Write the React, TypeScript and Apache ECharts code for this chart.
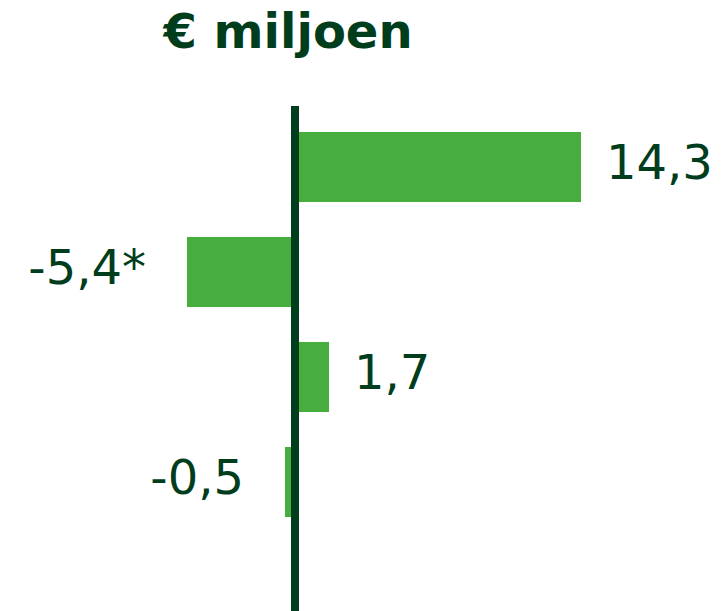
import React, { useEffect, useRef } from "react";
import * as echarts from "echarts";

const categories = ["A", "B", "C", "D"];
const values = [14.3, -5.4, 1.7, -0.5];
const footnoteMarks = ["", "*", "", ""];
const titleText = "€ miljoen";

const BAR = "#46ad3e";
const DARK = "#003d1c";
const FONT = "'DejaVu Sans', Verdana, sans-serif";

export default function App() {
  const ref = useRef<HTMLDivElement>(null);
  useEffect(() => {
    if (!ref.current) return;
    const chart = echarts.init(ref.current, undefined, { renderer: "svg" });
    const option: any = {
      animation: false,
      backgroundColor: "#ffffff",
      title: {
        text: titleText,
        left: 283,
        top: 2,
        textAlign: "center",
        textStyle: { fontFamily: FONT, fontWeight: "bold", fontSize: 48, color: DARK },
      },
      grid: { left: 15, right: 26, top: 114.5, height: 420, containLabel: false },
      xAxis: {
        type: "value",
        min: -14,
        max: 20,
        show: false,
      },
      yAxis: {
        type: "category",
        data: categories,
        inverse: true,
        axisLine: { show: false },
        axisTick: { show: false },
        axisLabel: { show: false },
        splitLine: { show: false },
      },
      series: [
        {
          type: "bar",
          barWidth: 70,
          data: values.map((v, i) => ({
            value: v,
            label: {
              show: true,
              position: v >= 0 ? "right" : "left",
              distance: v >= 0 ? 25 : 41,
              offset: [0, -5],
              formatter: () => String(v).replace(".", ",") + footnoteMarks[i],
              fontFamily: FONT,
              fontSize: 48,
              color: DARK,
            },
          })),
          itemStyle: { color: BAR },
        },
      ],
    };
    chart.setOption(option);
    const x0 = chart.convertToPixel({ xAxisIndex: 0 }, 0) as number;
    chart.setOption({
      graphic: [
        {
          type: "line",
          z: 100,
          shape: { x1: x0, y1: 106, x2: x0, y2: 611 },
          style: { stroke: DARK, lineWidth: 8 },
        },
      ],
    });
    return () => chart.dispose();
  }, []);
  return <div ref={ref} style={{ width: 721, height: 611, position: "absolute", left: 0, top: 0 }} />;
}
